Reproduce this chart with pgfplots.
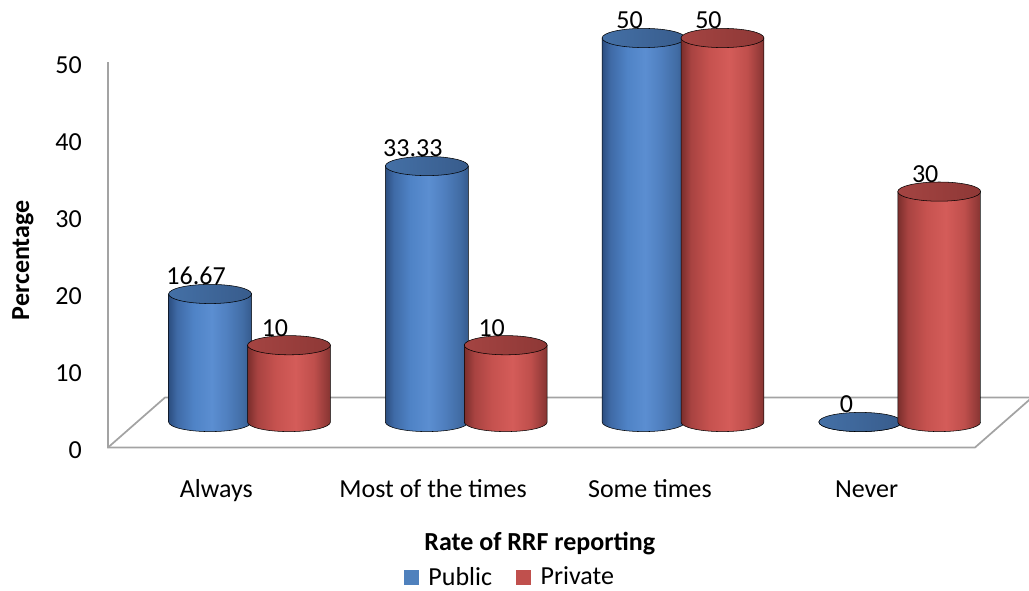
\documentclass[border=0pt]{standalone}
\usepackage{fontspec}
\setmainfont{Carlito}
\usepackage{pgfplots}
\usepackage{pgfplotstable}
\pgfplotsset{compat=1.18}

\newcommand\chartfont{\fontsize{19.5}{23}\selectfont}

% cylinder colours
\definecolor{pubKey}{HTML}{4F81BD}
\definecolor{privKey}{HTML}{C0504D}
\definecolor{frame}{HTML}{A3A3A3}

% body shadings: the path spans 25bp..75bp of each shading
\pgfdeclarehorizontalshading{pubbody}{100bp}{%
  color(0bp)=(rgb,255:red,44;green,78;blue,128);
  color(25bp)=(rgb,255:red,44;green,78;blue,128);
  color(30bp)=(rgb,255:red,63;green,106;blue,166);
  color(40bp)=(rgb,255:red,79;green,131;blue,198);
  color(51bp)=(rgb,255:red,91;green,142;blue,209);
  color(60bp)=(rgb,255:red,80;green,128;blue,192);
  color(70bp)=(rgb,255:red,65;green,108;blue,164);
  color(75bp)=(rgb,255:red,53;green,90;blue,141);
  color(100bp)=(rgb,255:red,53;green,90;blue,141)}
\pgfdeclarehorizontalshading{privbody}{100bp}{%
  color(0bp)=(rgb,255:red,122;green,46;blue,44);
  color(25bp)=(rgb,255:red,122;green,46;blue,44);
  color(31bp)=(rgb,255:red,168;green,67;blue,65);
  color(42bp)=(rgb,255:red,198;green,82;blue,79);
  color(54bp)=(rgb,255:red,212;green,92;blue,89);
  color(65bp)=(rgb,255:red,191;green,79;blue,76);
  color(72bp)=(rgb,255:red,151;green,60;blue,58);
  color(75bp)=(rgb,255:red,133;green,52;blue,49);
  color(100bp)=(rgb,255:red,133;green,52;blue,49)}
\pgfdeclarehorizontalshading{pubcap}{100bp}{%
  color(0bp)=(rgb,255:red,68;green,112;blue,166);
  color(25bp)=(rgb,255:red,68;green,112;blue,166);
  color(75bp)=(rgb,255:red,56;green,92;blue,140);
  color(100bp)=(rgb,255:red,56;green,92;blue,140)}
\pgfdeclarehorizontalshading{privcap}{100bp}{%
  color(0bp)=(rgb,255:red,164;green,68;blue,66);
  color(25bp)=(rgb,255:red,164;green,68;blue,66);
  color(75bp)=(rgb,255:red,142;green,56;blue,54);
  color(100bp)=(rgb,255:red,142;green,56;blue,54)}

% A cylinder mark: drawn at the top centre, reaching down to zero.
% \cylv holds the value of the current point (5.76pt per percent).
\newcommand\cylheight{%
  \begingroup
    \pgfkeys{/pgf/fpu=true,/pgf/fpu/output format=fixed}%
    \pgfmathparse{5.76*\cylv}%
    \global\let\cylh\pgfmathresult
  \endgroup}
\newcommand\declarecylinder[3]{%
  \pgfdeclareplotmark{#1}{%
    \cylheight
    \begin{scope}[yslant=0.108]
      \shade[shading=#2] (-31.1pt,0pt) -- (-31.1pt,-\cylh pt)
        arc[start angle=180,end angle=360,x radius=31.1pt,y radius=7.2pt]
        -- (31.1pt,0pt) -- cycle;
      \shade[shading=#3] (0pt,0pt) ellipse[x radius=31.1pt,y radius=7.2pt];
    \end{scope}}}
\declarecylinder{pubcyl}{pubbody}{pubcap}
\declarecylinder{privcyl}{privbody}{privcap}

\pgfplotsset{
  /pgf/number format/assume math mode=true,
  cylinder bars/.style 2 args={% mark, offset
    only marks, scatter, mark=#1,
    x filter/.expression={x+#2},
    visualization depends on={y \as \cylv},
    point meta=y,
    nodes near coords={\pgfmathprintnumber[fixed,precision=2]{\pgfplotspointmeta}},
    every node near coord/.append style={anchor=south, inner sep=0pt,
      xshift=-10.5pt, yshift=6.5pt, text=black, font=\chartfont},
  },
  chart box/.style={
    scale only axis, at={(81pt,106.875pt)}, anchor=south west,
    width=650.25pt, height=289.125pt, clip=false,
  },
}

\pgfplotstableread{
x v
0 16.67
1 33.33
2 50
3 0
}\publicdata

\pgfplotstableread{
x v
0 10
1 10
2 50
3 30
}\privatedata

\begin{document}
\begin{tikzpicture}
\path[use as bounding box] (0pt,0pt) rectangle (771.75pt,442.5pt);

% frame: wall, floor, ticks and titles
\begin{axis}[chart box,
  xmin=-0.5, xmax=3.5, ymin=0, ymax=50,
  axis line style={draw=none}, tick style={draw=none},
  xtick={0,1,2,3},
  xticklabels={Always, Most of the times, Some times, Never},
  ytick={0,10,20,30,40,50},
  tick label style={font=\chartfont, text=black},
  yticklabel style={anchor=east, inner sep=0pt, xshift=-19.5pt, yshift=-2pt},
  xticklabel style={anchor=base, inner sep=0pt, yshift=-37.5pt},
  xlabel={Rate of RRF reporting},
  ylabel={Percentage},
  label style={font=\chartfont\bfseries},
  xlabel style={at={(axis description cs:0.498,-0.266)}, anchor=base, inner sep=0pt},
  ylabel style={at={(axis description cs:-0.0911,0.486)}, anchor=base, inner sep=0pt},
]
\draw[frame, line width=1.3pt] (axis cs:-0.5,50) -- (axis cs:-0.5,0) -- (axis cs:3.5,0) -- (axis cs:3.763,6.485);
\draw[frame, line width=1.3pt] (axis cs:-0.5,0) -- (axis cs:-0.237,6.485) -- (axis cs:3.763,6.485);
\end{axis}

% cylinders
\begin{axis}[chart box,
  xmin=-0.653, xmax=3.347, ymin=-3.32, ymax=46.875,
  hide axis,
  legend columns=2,
  legend style={at={(axis description cs:0.464,-0.336)}, anchor=center,
    draw=none, fill=none, font=\chartfont, inner sep=0pt,
    /tikz/every odd column/.append style={column sep=5.5pt},
    /tikz/every even column/.append style={column sep=16pt}},
]
\addplot[cylinder bars={pubcyl}{-0.182},
  legend image code/.code={\fill[pubKey] (0pt,-5.25pt) rectangle (10.5pt,5.25pt);}]
  table[x=x, y=v] {\publicdata};
\addlegendentry{Public}
\addplot[cylinder bars={privcyl}{0.182},
  legend image code/.code={\fill[privKey] (0pt,-5.25pt) rectangle (10.5pt,5.25pt);}]
  table[x=x, y=v] {\privatedata};
\addlegendentry{Private}
\end{axis}
\end{tikzpicture}
\end{document}
